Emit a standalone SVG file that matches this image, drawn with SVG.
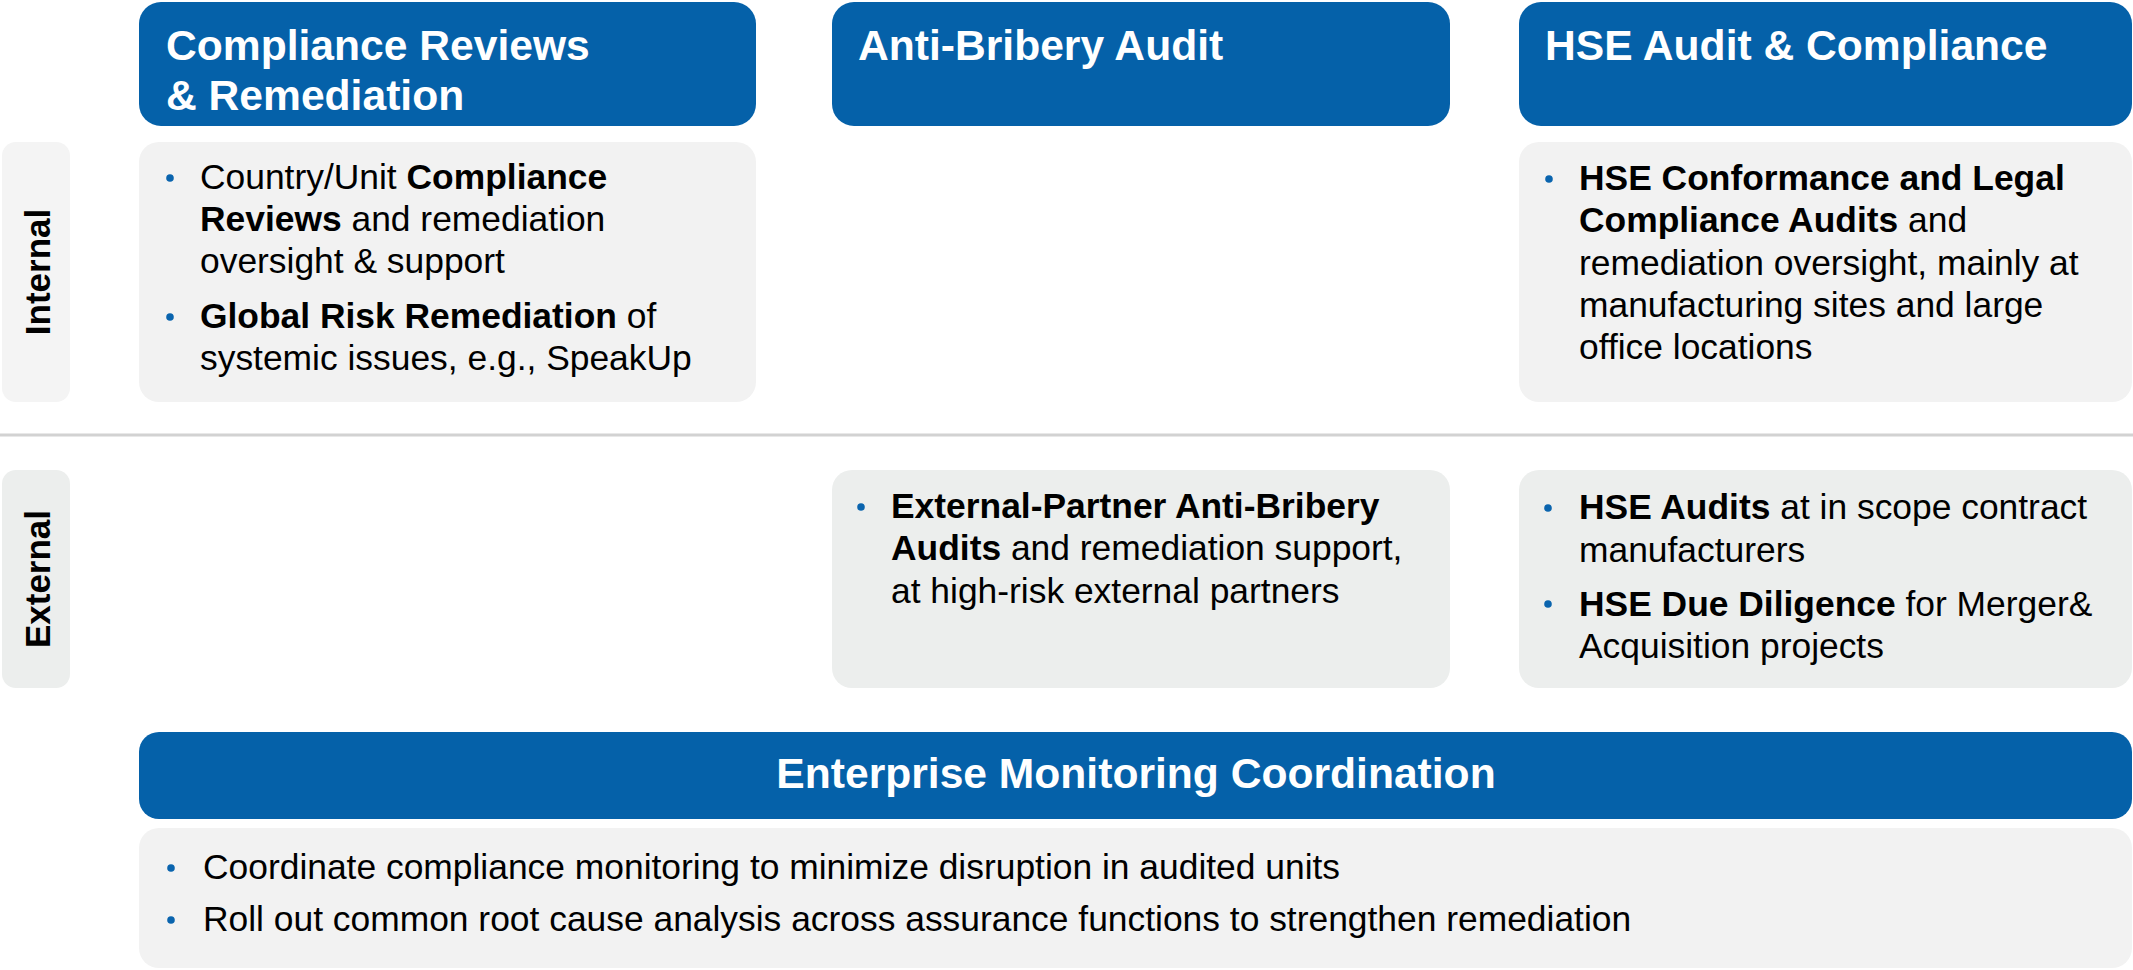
<svg xmlns="http://www.w3.org/2000/svg" width="2133" height="970" viewBox="0 0 2133 970">
<style>
.hdr{fill:#0561a9}
.hd{font-family:"Liberation Sans",Arial,sans-serif;font-weight:bold;font-size:42.6px;fill:#ffffff}
.c1{fill:#f2f2f2}
.c2{fill:#eceeed}
.lab1{fill:#f4f4f4}
.lab{font-family:"Liberation Sans",Arial,sans-serif;font-weight:bold;font-size:35px;fill:#000000}
.t{font-family:"Liberation Sans",Arial,sans-serif;font-size:35.4px;fill:#000000}
.b{font-weight:bold}
.dot{fill:#0a64ae}
</style>
<rect width="2133" height="970" fill="#ffffff"/>
<g id="separator">
<line x1="0" y1="435" x2="2133" y2="435" stroke="#d2d2d2" stroke-width="3"/>
</g>
<g id="label-internal">
<rect class="lab1" x="2" y="142" width="68" height="260" rx="14"/>
<text class="lab" transform="translate(50,272) rotate(-90)" text-anchor="middle">Internal</text>
</g>
<g id="label-external">
<rect class="c2" x="2" y="470" width="68" height="218" rx="14"/>
<text class="lab" transform="translate(50,579) rotate(-90)" text-anchor="middle">External</text>
</g>
<g id="header-compliance">
<rect class="hdr" x="139" y="2" width="617" height="124" rx="22"/>
<text class="hd" x="166" y="60">Compliance Reviews</text>
<text class="hd" x="166" y="110">&amp; Remediation</text>
</g>
<g id="header-antibribery">
<rect class="hdr" x="832" y="2" width="618" height="124" rx="22"/>
<text class="hd" x="858" y="60">Anti-Bribery Audit</text>
</g>
<g id="header-hse">
<rect class="hdr" x="1519" y="2" width="613" height="124" rx="22"/>
<text class="hd" x="1545" y="60">HSE Audit &amp; Compliance</text>
</g>
<g id="internal-compliance">
<rect class="c1" x="139" y="142" width="617" height="260" rx="20"/>
<circle class="dot" cx="170" cy="178" r="3.8"/>
<text class="t" x="200" y="189">Country/Unit <tspan class="b">Compliance</tspan></text>
<text class="t" x="200" y="231"><tspan class="b">Reviews</tspan> and remediation</text>
<text class="t" x="200" y="273">oversight &amp; support</text>
<circle class="dot" cx="170" cy="317" r="3.8"/>
<text class="t" x="200" y="328"><tspan class="b">Global Risk Remediation</tspan> of</text>
<text class="t" x="200" y="370">systemic issues, e.g., SpeakUp</text>
</g>
<g id="internal-hse">
<rect class="c1" x="1519" y="142" width="613" height="260" rx="20"/>
<circle class="dot" cx="1549" cy="179" r="3.8"/>
<text class="t" x="1579" y="190"><tspan class="b">HSE Conformance and Legal</tspan></text>
<text class="t" x="1579" y="232"><tspan class="b">Compliance Audits</tspan> and</text>
<text class="t" x="1579" y="275">remediation oversight, mainly at</text>
<text class="t" x="1579" y="317">manufacturing sites and large</text>
<text class="t" x="1579" y="359">office locations</text>
</g>
<g id="external-antibribery">
<rect class="c2" x="832" y="470" width="618" height="218" rx="20"/>
<circle class="dot" cx="861" cy="507" r="3.8"/>
<text class="t" x="891" y="518"><tspan class="b">External-Partner Anti-Bribery</tspan></text>
<text class="t" x="891" y="560"><tspan class="b">Audits</tspan> and remediation support,</text>
<text class="t" x="891" y="603">at high-risk external partners</text>
</g>
<g id="external-hse">
<rect class="c2" x="1519" y="470" width="613" height="218" rx="20"/>
<circle class="dot" cx="1548" cy="508" r="3.8"/>
<text class="t" x="1579" y="519"><tspan class="b">HSE Audits</tspan> at in scope contract</text>
<text class="t" x="1579" y="562">manufacturers</text>
<circle class="dot" cx="1548" cy="604" r="3.8"/>
<text class="t" x="1579" y="616"><tspan class="b">HSE Due Diligence</tspan> for Merger&amp;</text>
<text class="t" x="1579" y="658">Acquisition projects</text>
</g>
<g id="header-enterprise">
<rect class="hdr" x="139" y="732" width="1993" height="87" rx="20"/>
<text class="hd" x="1136" y="788" text-anchor="middle">Enterprise Monitoring Coordination</text>
</g>
<g id="enterprise-content">
<rect class="c1" x="139" y="828" width="1993" height="140" rx="20"/>
<circle class="dot" cx="171" cy="868" r="3.8"/>
<text class="t" x="203" y="879">Coordinate compliance monitoring to minimize disruption in audited units</text>
<circle class="dot" cx="171" cy="920" r="3.8"/>
<text class="t" x="203" y="931">Roll out common root cause analysis across assurance functions to strengthen remediation</text>
</g>
<g id="connectors"></g>
</svg>
